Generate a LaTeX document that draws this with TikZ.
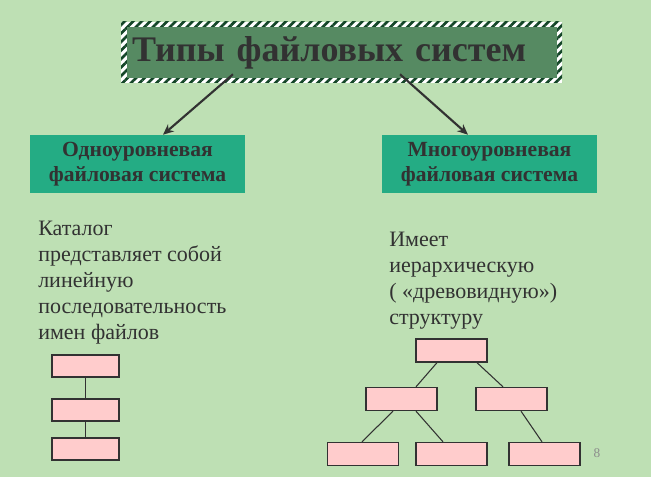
\documentclass[tikz,border=0pt]{standalone}
\usepackage{fontspec}
\setmainfont{Liberation Serif}
\usepackage{xcolor}
\usetikzlibrary{arrows.meta,patterns.meta}
\definecolor{bgcol}{RGB}{190,224,180}
\definecolor{titlecol}{RGB}{86,138,98}
\definecolor{hatchcol}{RGB}{20,70,40}
\definecolor{boxcol}{RGB}{36,172,132}
\definecolor{inkcol}{RGB}{50,50,50}
\definecolor{cellcol}{RGB}{255,204,204}

\begin{document}
\begin{tikzpicture}[x=0.75pt,y=-0.75pt,
  titlebox/.style={fill=titlecol,text=inkcol,inner xsep=3.75pt,inner ysep=0pt,
    text width=315pt,align=left,minimum height=38.25pt,
    font=\bfseries\fontsize{27}{30}\selectfont},
  kindbox/.style={fill=boxcol,text=inkcol,minimum width=161.25pt,minimum height=43.5pt,
    align=center,inner sep=0pt,font=\bfseries\fontsize{16.2}{18.75}\selectfont},
  plain/.style={text=inkcol,align=left,inner sep=0pt,anchor=north west,
    font=\fontsize{16.5}{19.5}\selectfont},
  cell/.style={draw=inkcol,fill=cellcol,line width=1pt,inner sep=0pt,
    minimum width=50.25pt,minimum height=16.5pt},
  tcell/.style={cell,minimum width=53.25pt,minimum height=17.25pt},
  link/.style={draw=inkcol,line width=0.8pt},
  pointer/.style={draw=inkcol,line width=1.6pt,-{Stealth[length=8pt,width=7pt]}}]
\fill[bgcol] (0,0) rectangle (651,477);
\useasboundingbox (0,0) rectangle (651,477);

% title with hatched frame
\fill[white] (121,22) rectangle (562,83);
\fill[pattern={Lines[angle=45,distance=4.5pt,line width=2pt]},pattern color=hatchcol]
  (121,22) rectangle (562,83);
\node[titlebox,minimum width=322.5pt] (title) at (342,52.5) {Типы файловых систем};

\node[kindbox] (single) at (137.5,164) {Одноуровневая\\файловая система};
\node[kindbox] (multi) at (489.5,164) {Многоуровневая\\файловая система};

\draw[pointer] ([shift={(-109,-4)}]title.south) -- ([shift={(25.5,0)}]single.north);
\draw[pointer] ([shift={(58,-4)}]title.south) -- ([shift={(-21.5,0)}]multi.north);

\node[plain] (singletext) at (38,221) {Каталог\\представляет собой\\линейную\\последовательность\\имен файлов};
\node[plain] (multitext) at (389,232) {Имеет\\иерархическую\\( «древовидную»)\\структуру};

% linear list
\node[cell] (s1) at (85.5,366) {};
\node[cell] (s2) at (85.5,410) {};
\node[cell] (s3) at (85.5,449) {};
\draw[link] (s1) -- (s2) (s2) -- (s3);

% tree
\node[tcell] (root) at (451.5,350.5) {};
\node[tcell] (ml) at (401.5,399) {};
\node[tcell] (mr) at (511.5,399) {};
\node[tcell] (bl) at (363,454) {};
\node[tcell] (bm) at (451.5,454) {};
\node[tcell] (br) at (544.5,454) {};
\draw[link] ([shift={(-14.5,0)}]root.south) -- ([shift={(14.5,0)}]ml.north);
\draw[link] ([shift={(25.5,0)}]root.south) -- ([shift={(-8.5,0)}]mr.north);
\draw[link] ([shift={(-8.5,0)}]ml.south) -- ([shift={(-1,0)}]bl.north);
\draw[link] ([shift={(14.5,0)}]ml.south) -- ([shift={(-8.5,0)}]bm.north);
\draw[link] ([shift={(9.5,0)}]mr.south) -- ([shift={(-2.5,0)}]br.north);

\node[text=black!45,font=\fontsize{10}{12}\selectfont] (page) at (597,453) {8};
\end{tikzpicture}
\end{document}
